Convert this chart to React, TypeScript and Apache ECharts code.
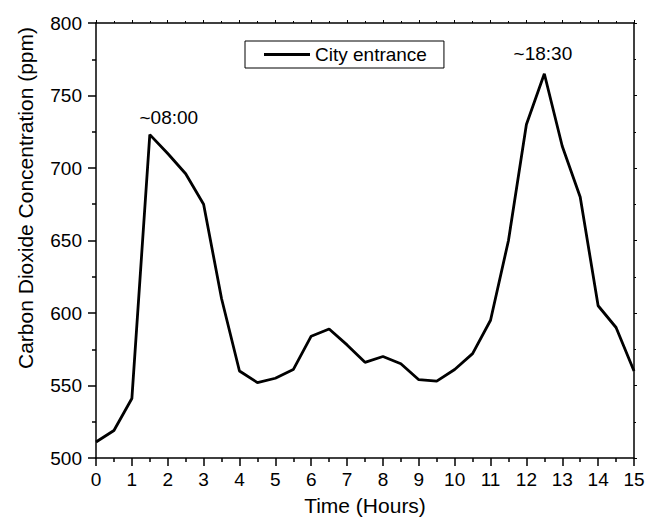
import React, { useEffect, useRef } from "react";
import * as echarts from "echarts";

const hours = [0, 0.5, 1, 1.5, 2, 2.5, 3, 3.5, 4, 4.5, 5, 5.5, 6, 6.5, 7, 7.5, 8, 8.5, 9, 9.5, 10, 10.5, 11, 11.5, 12, 12.5, 13, 13.5, 14, 14.5, 15];
const co2 = [511, 519, 541, 723, 710, 696, 675, 610, 560, 552, 555, 561, 584, 589, 578, 566, 570, 565, 554, 553, 561, 572, 595, 650, 730, 765, 715, 680, 605, 590, 560];
const seriesName = "City entrance";
const annotationLabels = ["~08:00", "~18:30"];
const annotationX = [2.03, 12.46];
const annotationY = [735, 779];
const xTitle = "Time (Hours)";
const yTitle = "Carbon Dioxide Concentration (ppm)";

const FONT = "'Liberation Sans', Arial, Helvetica, sans-serif";

export default function App() {
  const ref = useRef<HTMLDivElement>(null);
  useEffect(() => {
    if (!ref.current) return;
    const chart = echarts.init(ref.current, null, { renderer: "svg" });
    const axisLine = { show: true, onZero: false, lineStyle: { color: "#000", width: 1.5 } };
    chart.setOption({
      animation: false,
      backgroundColor: "#fff",
      textStyle: { fontFamily: FONT, color: "#000" },
      grid: { left: 96, right: 14, top: 23, bottom: 61, containLabel: false },
      legend: {
        show: true,
        data: [{ name: seriesName, icon: "rect" }],
        left: 245,
        top: 41,
        padding: [4, 17, 4, 19],
        borderColor: "#000",
        borderWidth: 1,
        itemWidth: 46,
        itemHeight: 3,
        itemStyle: { color: "#000" },
        textStyle: { fontSize: 19, color: "#000", fontFamily: FONT },
      },
      xAxis: [
        {
          type: "value",
          min: 0,
          max: 15,
          interval: 1,
          position: "bottom",
          axisLine,
          axisTick: { show: true, inside: false, length: 8, lineStyle: { color: "#000", width: 1.5 } },
          minorTick: { show: true, splitNumber: 2, length: 4, lineStyle: { color: "#000", width: 1.5 } },
          splitLine: { show: false },
          minorSplitLine: { show: false },
          axisLabel: { color: "#000", fontSize: 19, margin: 12, fontFamily: FONT },
          name: xTitle,
          nameLocation: "middle",
          nameGap: 37,
          nameTextStyle: { fontSize: 21, color: "#000", fontFamily: FONT },
        },
        {
          type: "value",
          min: 0,
          max: 15,
          interval: 1,
          position: "top",
          axisLine,
          axisTick: { show: true, inside: false, length: 3, lineStyle: { color: "#000", width: 1 } },
          minorTick: { show: true, splitNumber: 2, length: 2, lineStyle: { color: "#000", width: 1 } },
          splitLine: { show: false },
          axisLabel: { show: false },
        },
      ],
      yAxis: [
        {
          type: "value",
          min: 500,
          max: 800,
          interval: 50,
          position: "left",
          axisLine,
          axisTick: { show: true, inside: false, length: 8, lineStyle: { color: "#000", width: 1.5 } },
          minorTick: { show: true, splitNumber: 2, length: 4, lineStyle: { color: "#000", width: 1.5 } },
          splitLine: { show: false },
          minorSplitLine: { show: false },
          axisLabel: { color: "#000", fontSize: 19, margin: 14, fontFamily: FONT },
        },
        {
          type: "value",
          min: 500,
          max: 800,
          interval: 50,
          position: "right",
          axisLine,
          axisTick: { show: true, inside: false, length: 3, lineStyle: { color: "#000", width: 1 } },
          minorTick: { show: true, splitNumber: 2, length: 2, lineStyle: { color: "#000", width: 1 } },
          splitLine: { show: false },
          axisLabel: { show: false },
        },
      ],
      graphic: [
        {
          type: "text",
          x: 25,
          y: 198,
          rotation: Math.PI / 2,
          style: {
            text: yTitle,
            fontSize: 21,
            fontFamily: FONT,
            fill: "#000",
            textAlign: "center",
            textVerticalAlign: "middle",
          },
        },
      ],
      series: [
        {
          type: "line",
          name: seriesName,
          data: hours.map((h, i) => [h, co2[i]]),
          symbol: "none",
          lineStyle: { color: "#000", width: 2.8 },
          itemStyle: { color: "#000" },
          markPoint: {
            symbol: "circle",
            symbolSize: 1,
            itemStyle: { color: "rgba(0,0,0,0)" },
            label: {
              show: true,
              position: "inside",
              formatter: "{b}",
              color: "#000",
              fontSize: 19,
              fontFamily: FONT,
            },
            data: annotationLabels.map((t, i) => ({ name: t, coord: [annotationX[i], annotationY[i]] })),
          },
        },
      ],
    });
    return () => chart.dispose();
  }, []);
  return <div ref={ref} style={{ position: "fixed", left: 0, top: 0, width: 648, height: 521 }} />;
}
